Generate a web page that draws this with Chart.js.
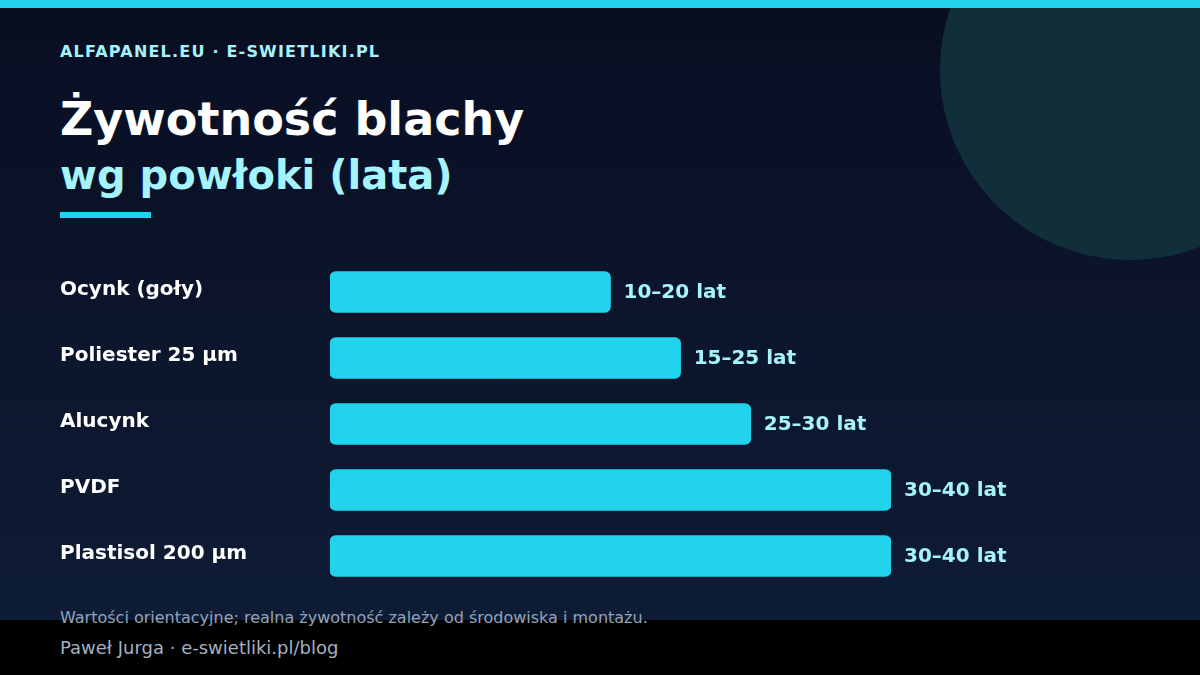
<!DOCTYPE html>
<html>
<head>
<meta charset="utf-8">
<script src="https://cdn.jsdelivr.net/npm/chart.js@4/dist/chart.umd.min.js"></script>
<style>
  html, body { margin: 0; padding: 0; }
  body { width: 1200px; height: 675px; position: relative; overflow: hidden;
    background: linear-gradient(180deg, #090e22 0%, #0f1d37 100%);
    font-family: "DejaVu Sans", sans-serif; }
  .topbar { position: absolute; left: 0; top: 0; width: 1200px; height: 8px; background: #22d3ee; }
  .circle { position: absolute; left: 940px; top: -120px; width: 380px; height: 380px; border-radius: 50%; background: #112f3b; }
  .footer { position: absolute; left: 0; top: 620px; width: 1200px; height: 55px; background: #000; }
  .t { position: absolute; left: 60px; white-space: nowrap; }
  .brand { top: 42px; font-size: 16px; font-weight: bold; color: #a5f3fc; letter-spacing: 1.2px; }
  .title { top: 92px; font-size: 46px; font-weight: bold; color: #ffffff; }
  .sub { top: 152px; font-size: 40px; font-weight: bold; color: #a5f3fc; }
  .uline { position: absolute; left: 60px; top: 212px; width: 91px; height: 6px; background: #22d3ee; }
  .note { top: 608px; font-size: 16px; color: #94a3b8; }
  .author { top: 637px; font-size: 18px; color: #a3b1c2; }
  canvas { position: absolute; left: 0; top: 0; }
</style>
</head>
<body>
<div class="circle"></div>
<div class="topbar"></div>
<div class="footer"></div>
<div class="t brand">ALFAPANEL.EU · E-SWIETLIKI.PL</div>
<div class="t title">Żywotność blachy</div>
<div class="t sub">wg powłoki (lata)</div>
<div class="uline"></div>
<div class="t note">Wartości orientacyjne; realna żywotność zależy od środowiska i montażu.</div>
<div class="t author">Paweł Jurga · e-swietliki.pl/blog</div>
<div style="position:absolute;left:0;top:0;width:1200px;height:675px;"><canvas id="c"></canvas></div>
<script>
const categories = ["Ocynk (goły)", "Poliester 25 µm", "Alucynk", "PVDF", "Plastisol 200 µm"];
const upperYears = [20, 25, 30, 40, 40];
const rangeLabels = ["10–20 lat", "15–25 lat", "25–30 lat", "30–40 lat", "30–40 lat"];

const labelPlugin = {
  id: 'labels',
  afterDatasetsDraw(chart) {
    const ctx = chart.ctx;
    const meta = chart.getDatasetMeta(0);
    const yScale = chart.scales.y;
    ctx.save();
    ctx.textBaseline = 'middle';
    ctx.font = 'bold 20px "DejaVu Sans"';
    categories.forEach((c, i) => {
      const y = yScale.getPixelForValue(i);
      ctx.fillStyle = '#ffffff';
      ctx.textAlign = 'left';
      ctx.fillText(c, 60, y - 2);
      const bar = meta.data[i];
      ctx.fillStyle = '#a5f3fc';
      ctx.fillText(rangeLabels[i], bar.x + 13, y + 0.5);
    });
    ctx.restore();
  }
};

new Chart(document.getElementById('c'), {
  type: 'bar',
  data: {
    labels: categories,
    datasets: [{
      data: upperYears,
      backgroundColor: '#22d3ee',
      borderRadius: 6,
      borderSkipped: false,
      barThickness: 41
    }]
  },
  options: {
    indexAxis: 'y',
    responsive: true,
    maintainAspectRatio: false,
    animation: false,
    layout: { padding: { left: 330, right: 309, top: 259, bottom: 86 } },
    scales: {
      x: { display: false, min: 0, max: 40 },
      y: { display: false }
    },
    plugins: { legend: { display: false }, tooltip: { enabled: false } }
  },
  plugins: [labelPlugin]
});
</script>
</body>
</html>
